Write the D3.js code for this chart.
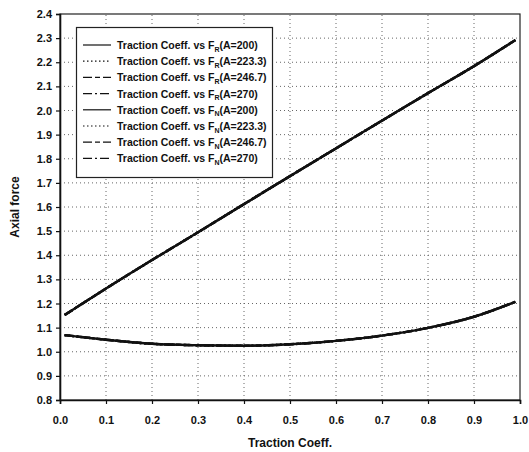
<!DOCTYPE html>
<html>
<head>
<meta charset="utf-8">
<script src="https://cdn.jsdelivr.net/npm/d3@7"></script>
<style>
  body { margin: 0; background: #fff; }
  svg text { font-family: "Liberation Sans", Arial, sans-serif; fill: #111; }
</style>
</head>
<body>
<script>
// traction coefficient samples
var tractionCoeff = [0.01, 0.1, 0.2, 0.3, 0.4, 0.5, 0.6, 0.7, 0.8, 0.9, 0.99];
// upper curve (F_R) and lower curve (F_N), all A values overlap
var forceR = [1.152, 1.262, 1.38, 1.495, 1.612, 1.728, 1.843, 1.958, 2.072, 2.184, 2.292];
var forceN = [1.069, 1.05, 1.033, 1.027, 1.025, 1.031, 1.045, 1.067, 1.099, 1.145, 1.207];
var aValues = ['200', '223.3', '246.7', '270'];
var xTicks = [0, 0.1, 0.2, 0.3, 0.4, 0.5, 0.6, 0.7, 0.8, 0.9, 1.0];
var yTicks = [0.8, 0.9, 1.0, 1.1, 1.2, 1.3, 1.4, 1.5, 1.6, 1.7, 1.8, 1.9, 2.0, 2.1, 2.2, 2.3, 2.4];
var dashes = ['none', '1.5,2.5', '9,3,5,3', '9,3,2,3'];

var width = 529, height = 452;
var svg = d3.select('body').append('svg')
  .attr('width', width)
  .attr('height', height);

var x = d3.scaleLinear().domain([0, 1]).range([60, 520]);
var y = d3.scaleLinear().domain([0.8, 2.4]).range([400, 14]);

// grid
svg.append('g').selectAll('line.vg')
  .data(xTicks.slice(1, -1))
  .enter().append('line')
  .attr('x1', d => x(d)).attr('x2', d => x(d))
  .attr('y1', y(0.8)).attr('y2', y(2.4))
  .style('stroke', '#666').style('stroke-width', 1).style('stroke-dasharray', '1,3');
svg.append('g').selectAll('line.hg')
  .data(yTicks.slice(1, -1))
  .enter().append('line')
  .attr('x1', x(0)).attr('x2', x(1))
  .attr('y1', d => y(d)).attr('y2', d => y(d))
  .style('stroke', '#666').style('stroke-width', 1).style('stroke-dasharray', '1,3');

// frame
svg.append('rect')
  .attr('x', x(0)).attr('y', y(2.4))
  .attr('width', x(1) - x(0)).attr('height', y(0.8) - y(2.4))
  .style('fill', 'none').style('stroke', '#222').style('stroke-width', 1.2);

// axes
var xAxis = svg.append('g')
  .attr('transform', 'translate(0,' + y(0.8) + ')')
  .call(d3.axisBottom(x).tickValues(xTicks).tickFormat(d3.format('.1f')).tickSize(4).tickPadding(12));
var yAxis = svg.append('g')
  .attr('transform', 'translate(' + x(0) + ',0)')
  .call(d3.axisLeft(y).tickValues(yTicks).tickFormat(d3.format('.1f')).tickSize(4).tickPadding(4));
[xAxis, yAxis].forEach(function (a) {
  a.select('.domain').style('stroke', '#111').style('stroke-width', 1.6);
  a.selectAll('.tick line').style('stroke', '#111').style('stroke-width', 1.2);
  a.selectAll('.tick text')
    .style('font-size', '11px').style('font-weight', 'bold')
    .style('font-family', '"Liberation Sans", Arial, sans-serif').style('fill', '#111');
});

// curves
var line = d3.line()
  .x(d => x(d[0]))
  .y(d => y(d[1]))
  .curve(d3.curveMonotoneX);

var series = [];
aValues.forEach(function (a, i) {
  series.push({ name: 'R', a: a, dash: dashes[i], values: d3.zip(tractionCoeff, forceR) });
});
aValues.forEach(function (a, i) {
  series.push({ name: 'N', a: a, dash: dashes[i], values: d3.zip(tractionCoeff, forceN) });
});

svg.append('g').selectAll('path')
  .data(series)
  .enter().append('path')
  .attr('d', d => line(d.values))
  .style('fill', 'none')
  .style('stroke', '#111')
  .style('stroke-width', 2.4)
  .style('stroke-dasharray', d => d.dash);

// legend
var legend = svg.append('g');
legend.append('rect')
  .attr('x', 76.5).attr('y', 27.5)
  .attr('width', 196).attr('height', 150)
  .style('fill', '#fff').style('stroke', '#222').style('stroke-width', 1.2);

var items = legend.selectAll('g.item')
  .data(series)
  .enter().append('g')
  .attr('transform', (d, i) => 'translate(0,' + (45 + i * 16.2) + ')');
items.append('line')
  .attr('x1', 83).attr('x2', 111).attr('y1', 0).attr('y2', 0)
  .style('stroke', '#111').style('stroke-width', 1.2)
  .style('stroke-dasharray', d => d.dash);
var txt = items.append('text')
  .attr('x', 117).attr('y', 4)
  .style('font-size', '10.5px').style('font-weight', 'bold');
txt.append('tspan').text('Traction Coeff. vs F');
txt.append('tspan').attr('dy', 2.5).style('font-size', '7px').text(d => d.name);
txt.append('tspan').attr('dy', -2.5).text(d => '(A=' + d.a + ')');

// axis titles
svg.append('text')
  .attr('x', (x(0) + x(1)) / 2).attr('y', 447)
  .attr('text-anchor', 'middle')
  .style('font-size', '12px').style('font-weight', 'bold')
  .text('Traction Coeff.');
svg.append('text')
  .attr('transform', 'translate(19,' + y(1.6) + ') rotate(-90)')
  .attr('text-anchor', 'middle')
  .style('font-size', '12px').style('font-weight', 'bold')
  .text('Axial force');
</script>
</body>
</html>
